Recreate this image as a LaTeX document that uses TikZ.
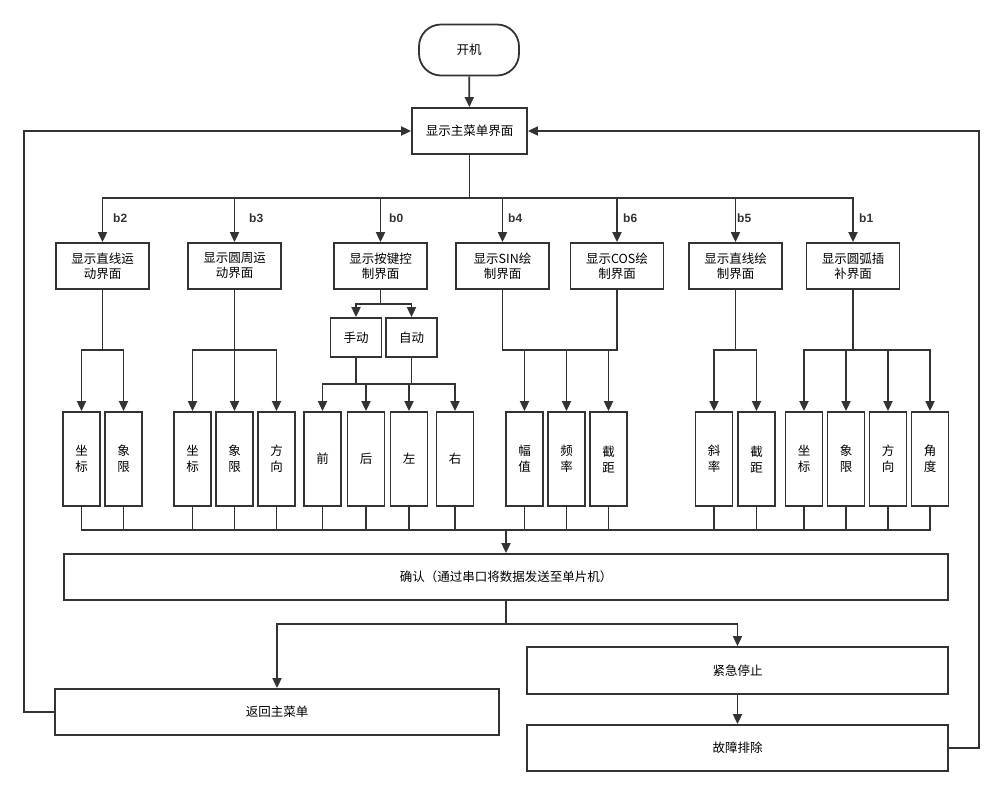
\documentclass[tikz,border=0pt]{standalone}
\usepackage{fontspec}
\setmainfont{Noto Sans CJK SC}
\newfontfamily\lblfont{Liberation Sans}
\usetikzlibrary{positioning,shapes,arrows.meta}

\definecolor{ink}{HTML}{333333}

\tikzset{
  box/.style={draw=ink, line width=1.8, fill=white, inner sep=0pt, align=center,
    minimum width=93pt, minimum height=46pt, font=\fontsize{12.5}{15}\selectfont},
  tallbox/.style={box, minimum width=37pt, minimum height=94pt,
    font=\fontsize{12.5}{16}\selectfont},
  arr/.style={draw=ink, line width=1.8, -{Triangle[length=10pt,width=9pt]}},
  ln/.style={draw=ink, line width=1.8},
  thinln/.style={draw=ink, line width=1.2},
  lbl/.style={anchor=west, inner sep=0pt, text=ink, font=\lblfont\bfseries\fontsize{12}{14}\selectfont}
}

\begin{document}
\begin{tikzpicture}[x=1pt, y=-1pt]
\useasboundingbox (0,0) rectangle (1002,796);

% start and main menu
\node[box, rounded corners=22pt, minimum width=100pt, minimum height=51pt] (start) at (469,50) {开机};
\node[box, minimum width=115pt] (main) at (469.5,131) {显示主菜单界面};
\draw[arr] (start) -- (main);

% second row
\node[box] (lin)  at (102.5,266) {显示直线运\\动界面};
\node[box] (cir)  at (234.5,266) {显示圆周运\\动界面};
\node[box] (key)  at (380.5,266) {显示按键控\\制界面};
\node[box] (sin)  at (502.5,266) {显示SIN绘\\制界面};
\node[box] (cos)  at (617,266)   {显示COS绘\\制界面};
\node[box] (lind) at (735.5,266) {显示直线绘\\制界面};
\node[box] (arc)  at (853,266)   {显示圆弧插\\补界面};

\coordinate (bus1) at (469.5,198);
\draw[ln] (main) -- (bus1);
\foreach \n in {lin,cir,key,sin,cos,lind,arc}
  \draw[arr] (bus1) -| (\n.north);

\node[lbl] (lb2) at (113,218) {b2};
\node[lbl] (lb3) at (249,218) {b3};
\node[lbl] (lb0) at (389,218) {b0};
\node[lbl] (lb4) at (508,218) {b4};
\node[lbl] (lb6) at (623,218) {b6};
\node[lbl] (lb5) at (737,218) {b5};
\node[lbl] (lb1) at (859,218) {b1};

% key control: manual / auto
\node[box, minimum width=51pt, minimum height=39pt] (sd) at (356,337.5) {手动};
\node[box, minimum width=51pt, minimum height=39pt] (zd) at (411.5,337.5) {自动};
\coordinate (j3) at (380.5,304);
\draw[ln] (key) -- (j3);
\draw[arr] (j3) -| (sd.north);
\draw[arr] (j3) -| (zd.north);

% parameter boxes
\node[tallbox] (zb1)  at (81.5,459)  {坐\\标};
\node[tallbox] (xx1)  at (123.5,459) {象\\限};
\node[tallbox] (zb2)  at (192.5,459) {坐\\标};
\node[tallbox] (xx2)  at (234.5,459) {象\\限};
\node[tallbox] (fx2)  at (276.5,459) {方\\向};
\node[tallbox] (qian) at (322.5,459) {前};
\node[tallbox] (hou)  at (366,459)   {后};
\node[tallbox] (zuo)  at (409,459)   {左};
\node[tallbox] (you)  at (455,459)   {右};
\node[tallbox] (fz)   at (524.5,459) {幅\\值};
\node[tallbox] (pl)   at (566.5,459) {频\\率};
\node[tallbox] (jj1)  at (608.5,459) {截\\距};
\node[tallbox] (xl)   at (714,459)   {斜\\率};
\node[tallbox] (jj2)  at (756.5,459) {截\\距};
\node[tallbox] (zb3)  at (804,459)   {坐\\标};
\node[tallbox] (xx3)  at (846,459)   {象\\限};
\node[tallbox] (fx3)  at (888,459)   {方\\向};
\node[tallbox] (jd)   at (930,459)   {角\\度};

\coordinate (j1) at (102.5,350);
\draw[ln] (lin) -- (j1);
\foreach \n in {zb1,xx1} \draw[arr] (j1) -| (\n.north);

\coordinate (j2) at (234.5,350);
\draw[ln] (cir) -- (j2);
\foreach \n in {zb2,xx2,fx2} \draw[arr] (j2) -| (\n.north);

\coordinate (j4) at (356,384);
\coordinate (j5) at (411.5,384);
\draw[ln] (sd) -- (j4);
\draw[ln] (zd) -- (j5);
\foreach \n in {qian,hou,zuo,you} \draw[arr] (j4) -| (\n.north);

\coordinate (j6) at (566.5,350);
\draw[ln] (sin.south) |- (j6) -| (cos.south);
\foreach \n in {fz,pl,jj1} \draw[arr] (j6) -| (\n.north);

\coordinate (j7) at (735.5,350);
\draw[ln] (lind) -- (j7);
\foreach \n in {xl,jj2} \draw[arr] (j7) -| (\n.north);

\coordinate (j8) at (853,350);
\draw[ln] (arc) -- (j8);
\foreach \n in {zb3,xx3,fx3,jd} \draw[arr] (j8) -| (\n.north);

% confirm
\node[box, minimum width=884pt] (ok) at (506,577) {确认（通过串口将数据发送至单片机）};
\coordinate (bus2) at (506,530);
\foreach \n in {zb1,xx1,zb2,xx2,fx2,qian,hou,zuo,you,fz,pl,jj1,xl,jj2,zb3,xx3,fx3,jd}
  \draw[thinln] (\n.south) |- (bus2);
\draw[arr] (bus2) -- (ok);

% return / stop / fix
\node[box, minimum width=444pt] (back) at (277,712) {返回主菜单};
\node[box, minimum width=421pt, minimum height=47pt] (stop) at (737.5,670.5) {紧急停止};
\node[box, minimum width=421pt] (fix) at (737.5,748) {故障排除};

\coordinate (j9) at (506,624);
\draw[ln] (ok) -- (j9);
\draw[arr] (j9) -| (back.north);
\draw[arr] (j9) -| (stop.north);
\draw[arr] (stop) -- (fix);

\draw[arr] (back.west) -- ++(-30,0) |- (main.west);
\draw[arr] (fix.east) -- ++(30,0) |- (main.east);
\end{tikzpicture}
\end{document}
